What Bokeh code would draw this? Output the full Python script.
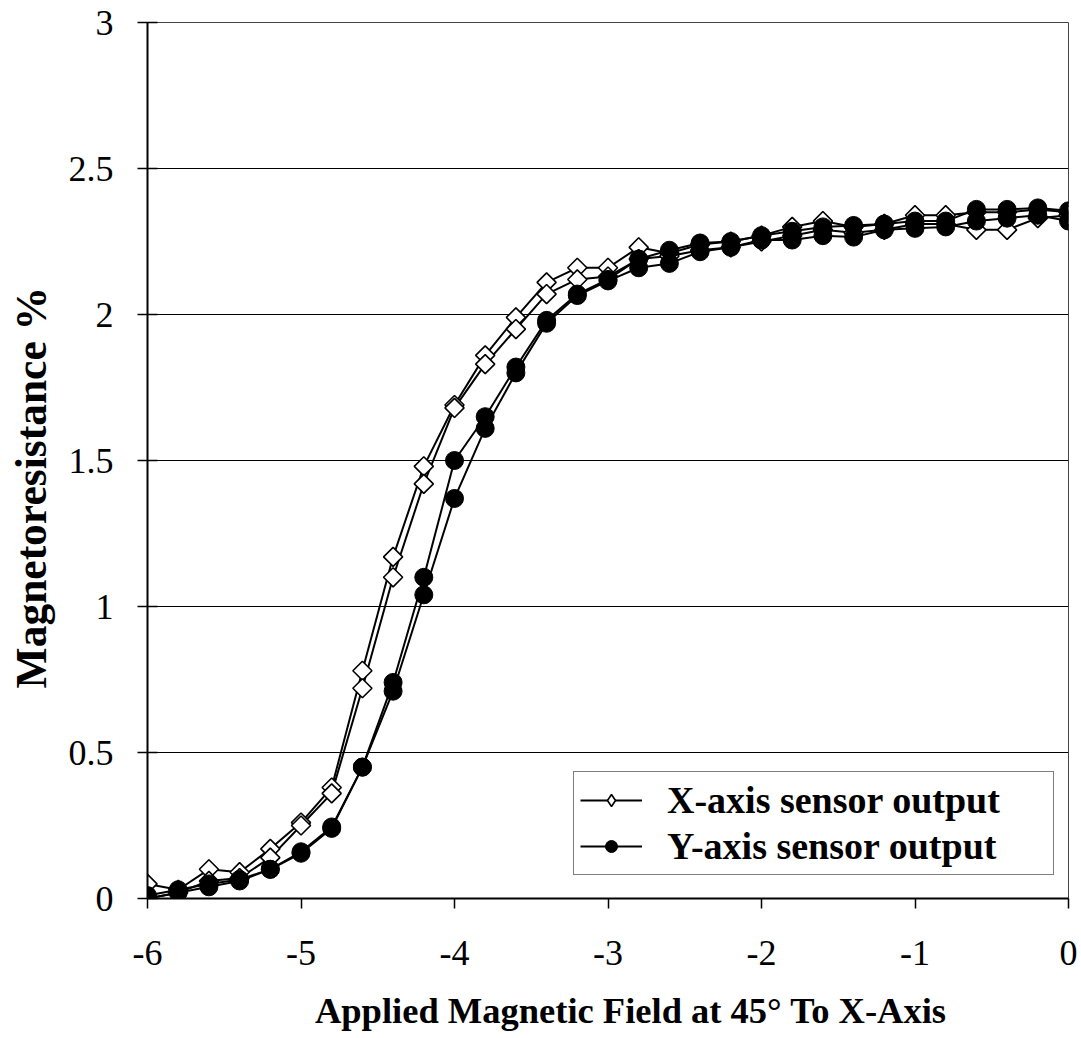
import math
from bokeh.plotting import figure
from bokeh.models import Legend, LegendItem, FixedTicker
from bokeh.embed import file_html
from bokeh.resources import INLINE

# ---------------- data ----------------
field = [-6.0, -5.8, -5.6, -5.4, -5.2, -5.0, -4.8, -4.6, -4.4, -4.2, -4.0,
         -3.8, -3.6, -3.4, -3.2, -3.0, -2.8, -2.6, -2.4, -2.2, -2.0,
         -1.8, -1.6, -1.4, -1.2, -1.0, -0.8, -0.6, -0.4, -0.2, 0.0]

x_sensor_a = [0.05, 0.03, 0.10, 0.09, 0.17, 0.26, 0.38, 0.78, 1.17, 1.48, 1.69,
              1.86, 1.99, 2.11, 2.16, 2.16, 2.23, 2.21, 2.24, 2.25, 2.27,
              2.30, 2.32, 2.30, 2.31, 2.34, 2.34, 2.35, 2.35, 2.36, 2.35]
x_sensor_b = [0.00, 0.02, 0.06, 0.07, 0.14, 0.25, 0.36, 0.72, 1.10, 1.42, 1.68,
              1.83, 1.95, 2.07, 2.12, 2.13, 2.19, 2.20, 2.22, 2.23, 2.25,
              2.27, 2.29, 2.28, 2.29, 2.31, 2.31, 2.29, 2.29, 2.33, 2.34]

y_sensor_a = [0.01, 0.03, 0.05, 0.065, 0.10, 0.16, 0.245, 0.45, 0.74, 1.10, 1.50,
              1.65, 1.82, 1.98, 2.07, 2.12, 2.19, 2.22, 2.245, 2.25, 2.27,
              2.285, 2.30, 2.305, 2.31, 2.32, 2.32, 2.36, 2.36, 2.365, 2.355]
y_sensor_b = [0.00, 0.02, 0.04, 0.06, 0.10, 0.155, 0.24, 0.45, 0.71, 1.04, 1.37,
              1.61, 1.80, 1.97, 2.065, 2.115, 2.16, 2.175, 2.215, 2.23, 2.255,
              2.255, 2.27, 2.265, 2.29, 2.295, 2.30, 2.32, 2.33, 2.34, 2.32]

x_ticks = [-6, -5, -4, -3, -2, -1, 0]
x_tick_labels = ["-6", "-5", "-4", "-3", "-2", "-1", "0"]
y_ticks = [0, 0.5, 1, 1.5, 2, 2.5, 3]
y_tick_labels = ["0", "0.5", "1", "1.5", "2", "2.5", "3"]

series_names = ["X-axis sensor output", "Y-axis sensor output"]
y_title = "Magnetoresistance %"
x_title = "Applied Magnetic Field at 45\u00b0 To X-Axis"

# ---------------- layout ----------------
W, H = 1080, 1036
BL, BR, BT, BB = 147, 12, 22, 138
FONT = "Liberation Serif"
NBSP = "\u00a0"

p = figure(width=W, height=H, x_range=(-6, 0), y_range=(0, 3),
           output_backend="svg", toolbar_location=None,
           min_border_left=BL, min_border_right=BR,
           min_border_top=BT, min_border_bottom=BB)
p.background_fill_color = "white"
p.border_fill_color = "white"
p.outline_line_color = "#444444"
p.outline_line_width = 1

p.xgrid.grid_line_color = None
p.ygrid.grid_line_color = "black"
p.ygrid.grid_line_width = 1
p.ygrid.ticker = FixedTicker(ticks=y_ticks)

p.xaxis.ticker = FixedTicker(ticks=x_ticks)
p.yaxis.ticker = FixedTicker(ticks=y_ticks)
p.xaxis.major_label_overrides = {t: l for t, l in zip(x_ticks, x_tick_labels)}
p.yaxis.major_label_overrides = {t: l for t, l in zip(y_ticks, y_tick_labels)}
for ax in (p.xaxis, p.yaxis):
    ax.axis_line_color = "black"
    ax.axis_line_width = 2
    ax.major_tick_line_color = "black"
    ax.major_tick_line_width = 1.5
    ax.minor_tick_line_color = None
    ax.major_label_text_font = FONT
    ax.major_label_text_font_size = "36px"
    ax.major_label_text_color = "black"
    ax.axis_label_text_font = FONT
    ax.axis_label_text_font_style = "bold"
    ax.axis_label_text_color = "black"
p.xaxis.major_tick_in = 0
p.xaxis.major_tick_out = 10
p.xaxis.major_label_standoff = 32
p.yaxis.major_tick_in = 10
p.yaxis.major_tick_out = 10
p.yaxis.major_label_standoff = 24

# titles (non-breaking spaces nudge the centre to match the reference)
p.yaxis.axis_label = y_title + NBSP * 5
p.yaxis.axis_label_text_font_size = "43.5px"
p.yaxis.axis_label_standoff = 11
p.xaxis.axis_label = NBSP * 5 + x_title
p.xaxis.axis_label_text_font_size = "36.5px"
p.xaxis.axis_label_standoff = 22

# ---------------- series ----------------
lx_a = p.line(field, x_sensor_a, line_color="black", line_width=2)
lx_b = p.line(field, x_sensor_b, line_color="black", line_width=2)
# legend-only diamond, hidden beneath the first plotted marker
leg_x = p.scatter(field[:1], x_sensor_a[:1], marker="diamond", size=19,
                  fill_color="white", line_color="black", line_width=1.6)
mx_a = p.scatter(field, x_sensor_a, marker="square", size=13.5, angle=math.pi / 4,
                 fill_color="white", line_color="black", line_width=1.6)
mx_b = p.scatter(field, x_sensor_b, marker="square", size=13.5, angle=math.pi / 4,
                 fill_color="white", line_color="black", line_width=1.6)

ly_a = p.line(field, y_sensor_a, line_color="black", line_width=2)
ly_b = p.line(field, y_sensor_b, line_color="black", line_width=2)
my_a = p.scatter(field, y_sensor_a, marker="circle", size=18,
                 fill_color="black", line_color="black")
my_b = p.scatter(field, y_sensor_b, marker="circle", size=18,
                 fill_color="black", line_color="black")

legend = Legend(items=[LegendItem(label=series_names[0], renderers=[lx_a, leg_x]),
                       LegendItem(label=series_names[1], renderers=[ly_a, my_a])],
                location=(426, 23))
legend.label_text_font = FONT
legend.label_text_font_style = "bold"
legend.label_text_font_size = "38px"
legend.label_text_color = "black"
legend.label_width = 380
legend.label_height = 44
legend.label_standoff = 25
legend.glyph_width = 62
legend.glyph_height = 30
legend.spacing = 2
legend.padding = 6
legend.margin = 0
legend.border_line_color = "black"
legend.border_line_width = 1.5
legend.background_fill_color = "white"
legend.background_fill_alpha = 1
p.add_layout(legend)

open("out.html", "w").write(file_html(p, INLINE))
